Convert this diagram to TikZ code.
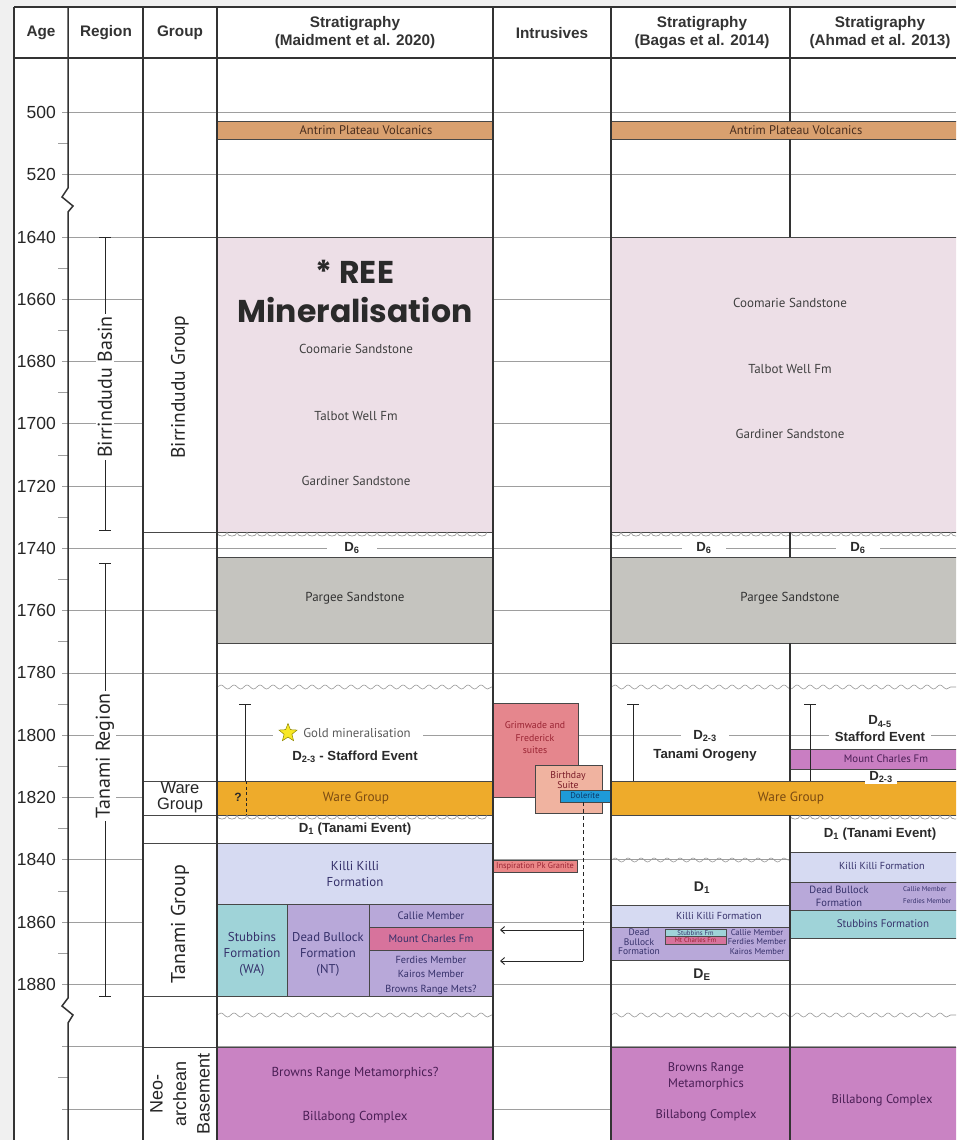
\documentclass[tikz,border=0pt]{standalone}
\usepackage{fontspec}
\setmainfont{Liberation Sans}
\newfontfamily\my{PT Sans}
\newfontfamily\pop{Poppins}
\usetikzlibrary{decorations.pathmorphing,arrows.meta,shapes.geometric}
\definecolor{antrim}{HTML}{D9A06F}
\definecolor{antxt}{HTML}{4A2E1E}
\definecolor{pinkbox}{HTML}{EDDFE7}
\definecolor{pargee}{HTML}{C5C4BF}
\definecolor{ware}{HTML}{EEAB2B}
\definecolor{waretxt}{HTML}{7A4A12}
\definecolor{killi}{HTML}{D6DAF2}
\definecolor{stub}{HTML}{9FD3D8}
\definecolor{dbull}{HTML}{B8A8D9}
\definecolor{mtch}{HTML}{D7739C}
\definecolor{mtchA}{HTML}{C97EC2}
\definecolor{basecol}{HTML}{C983C3}
\definecolor{grim}{HTML}{E5868D}
\definecolor{grimtxt}{HTML}{9A2433}
\definecolor{bday}{HTML}{F0B3A0}
\definecolor{dol}{HTML}{1E9AD8}
\definecolor{doltxt}{HTML}{0B3766}
\definecolor{insp}{HTML}{EA8787}
\definecolor{purtxt}{HTML}{35306A}
\definecolor{bastxt}{HTML}{4A1E55}
\definecolor{dk}{HTML}{2A2A2A}
\definecolor{bggray}{HTML}{F0F0F0}
\definecolor{staryel}{HTML}{F8E824}
\begin{document}
\begin{tikzpicture}[x=1pt,y=-1pt,
  colline/.style={line width=1.5pt, draw=black!80},
  gridl/.style={draw=black!38, line width=0.7pt},
  boxx/.style={draw=black!72, line width=0.9pt},
  wavy/.style={draw=black!40, line width=0.6pt, decorate, decoration={snake, segment length=13pt, amplitude=2pt}},
  scal/.style={draw=black!45, line width=0.6pt},
  ibeam/.style={draw=black!85, line width=0.9pt},
  hdr/.style={font=\bfseries\fontsize{15.3}{18}\selectfont, text=black!80, align=center, inner sep=0pt},
  agel/.style={font=\fontsize{17.5}{19}\selectfont, text=black!85, anchor=east, inner sep=0pt},
  fm/.style={font=\my\fontsize{13}{15}\selectfont, align=center, inner sep=0pt},
  sfm/.style={font=\my\fontsize{10.5}{12}\selectfont, align=center, inner sep=0pt},
  ev/.style={font=\bfseries\fontsize{13.2}{16}\selectfont, text=dk, align=center, inner sep=1pt},
  reg/.style={font=\my\fontsize{20}{22}\selectfont, text=black!85, rotate=90, inner sep=2pt}
]
\useasboundingbox (0,0) rectangle (956,1140);
\clip (0,0) rectangle (956,1140);
\fill[bggray] (0,0) rectangle (956,1140);
\fill[white] (14,7) rectangle (956,1140);

% ---------- grid lines and ticks
\draw[gridl] (62,112) -- (956,112);
\draw[gridl] (62,174) -- (956,174);
\draw[gridl] (58,143) -- (68,143);
\foreach \a in {1640,1660,...,1920} {
  \pgfmathsetmacro\yy{237+(\a-1640)*3.114}
  \draw[gridl] (62,\yy) -- (956,\yy);
}
\foreach \a in {1650,1670,...,1870,1910,1930} {
  \pgfmathsetmacro\yy{237+(\a-1640)*3.114}
  \draw[gridl] (58,\yy) -- (68,\yy);
}
\node[agel] (age500) at (56,112) {500};
\node[agel] (age520) at (56,174) {520};
\foreach \a in {1640,1660,...,1880} {
  \pgfmathsetmacro\yy{237+(\a-1640)*3.114}
  \node[agel] (age\a) at (56,\yy) {\a};
}

% ---------- region column
\draw[ibeam] (99,237) -- (111,237) (105,237) -- (105,530) (99,530) -- (111,530);
\node[reg, fill=white] (bbasin) at (105,387) {Birrindudu Basin};
\draw[ibeam] (99,563) -- (111,563) (105,563) -- (105,996) (99,996) -- (111,996);
\node[reg, fill=white] (tregion) at (105,756) {Tanami Region};

% ---------- group column
\path[boxx, fill=white] (143,237) rectangle (217,532);
\path[boxx, fill=white] (143,781) rectangle (217,815);
\path[boxx, fill=white] (143,815) rectangle (217,843);
\path[boxx, fill=white] (143,843) rectangle (217,996);
\path[boxx, fill=white] (143,996) rectangle (217,1047);
\path[boxx, fill=white] (143,1047) rectangle (217,1150);
\node[reg, font=\my\fontsize{19.5}{21}\selectfont] (gbirr) at (180,387) {Birrindudu Group};
\node[font=\fontsize{16.5}{16}\selectfont, align=center, inner sep=0pt, text=black!85] (gware) at (180,798) {Ware\\Group};
\node[reg, font=\my\fontsize{20}{22}\selectfont] (gtan) at (180,924) {Tanami Group};
\node[rotate=90, font=\fontsize{18}{23.5}\selectfont, align=center, inner sep=0pt, text=black!85] (gneo) at (180,1094) {Neo-\\archean\\Basement};

% ---------- Maidment column
\path[boxx, fill=antrim] (217,121) rectangle (493,139);
\node[fm, font=\my\fontsize{12.5}{14}\selectfont, text=antxt] (mantrim) at (366,130) {Antrim Plateau Volcanics};
\path[boxx, fill=pinkbox] (217,237) rectangle (493,532);
\node[font=\pop\bfseries\fontsize{31.5}{33}\selectfont, text=dk, inner sep=0pt] (ree1) at (355,272) {* REE};
\node[font=\pop\bfseries\fontsize{31.5}{33}\selectfont, text=dk, inner sep=0pt] (ree2) at (355,310) {Mineralisation};
\node[fm, text=black!75] (mcoom) at (356,349) {Coomarie Sandstone};
\node[fm, text=black!75] (mtalb) at (356,416) {Talbot Well Fm};
\node[fm, text=black!75] (mgard) at (356,481) {Gardiner Sandstone};
\foreach \x in {217,227,...,483}
  \draw[scal] (\x,532) .. controls +(0,5.5) and +(0,5.5) .. (\x+10,532);
\node[ev, fill=white, inner xsep=17pt] (md6) at (352,548) {D\textsubscript{6}};
\path[boxx, fill=pargee] (217,557) rectangle (493,643);
\node[fm, text=black!80] (mparg) at (355,598) {Pargee Sandstone};
\draw[wavy] (217,687) -- (493,687);
\draw[ibeam] (239,704) -- (251,704) (245,704) -- (245,781);
\fill[white] (273,726) rectangle (423,740);
\node[star, star points=5, star point ratio=2.3, fill=staryel, draw=olive, line width=0.5pt, minimum size=19pt, inner sep=0pt] (gstar) at (288,733) {};
\node[fm, font=\my\fontsize{12.8}{14}\selectfont, text=black!65] (gold) at (357,733) {Gold mineralisation};
\node[ev] (mstaff) at (355,757) {D\textsubscript{2-3} - Stafford Event};
\path[boxx, fill=ware] (217,781) rectangle (493,815);
\node[fm, font=\my\fontsize{13.3}{15}\selectfont, text=waretxt] (mware) at (356,798) {Ware Group};
\draw[ibeam, dash pattern=on 3pt off 2.5pt] (246,781) -- (246,815);
\node[font=\bfseries\fontsize{12}{13}\selectfont, text=dk, inner sep=0pt] (mq) at (238,797) {?};
\foreach \x in {217,227,...,483}
  \draw[scal] (\x,815) .. controls +(0,5.5) and +(0,5.5) .. (\x+10,815);
\node[ev] (md1) at (355,829) {D\textsubscript{1} (Tanami Event)};
\path[boxx, fill=killi] (217,843) rectangle (493,904);
\node[fm, font=\my\fontsize{12.9}{15.5}\selectfont, text=purtxt] (mkilli) at (355,874) {Killi Killi\\Formation};
\path[boxx, fill=stub] (217,904) rectangle (287,996);
\node[fm, font=\my\fontsize{12.9}{16}\selectfont, text=purtxt] (mstub) at (252,954) {Stubbins\\Formation\\(WA)};
\path[boxx, fill=dbull] (287,904) rectangle (369,996);
\node[fm, font=\my\fontsize{12.7}{16}\selectfont, text=purtxt] (mdead) at (328,954) {Dead Bullock\\Formation\\(NT)};
\path[boxx, fill=dbull] (369,904) rectangle (493,927);
\path[boxx, fill=mtch] (369,927) rectangle (493,950);
\path[boxx, fill=dbull] (369,950) rectangle (493,996);
\node[sfm, font=\my\fontsize{10.8}{12}\selectfont, text=purtxt] (mcallie) at (431,916) {Callie Member};
\node[sfm, font=\my\fontsize{10.9}{12}\selectfont, text=purtxt] (mmtch) at (431,939) {Mount Charles Fm};
\node[sfm, font=\my\fontsize{10.3}{14.5}\selectfont, text=purtxt] (mferd) at (431,975) {Ferdies Member\\Kairos Member\\Browns Range Mets?};
\draw[wavy] (217,1015) -- (493,1015);
\path[boxx, fill=basecol] (217,1047) rectangle (493,1150);
\node[fm, font=\my\fontsize{13}{15}\selectfont, text=bastxt] (mbrm) at (355,1073) {Browns Range Metamorphics?};
\node[fm, font=\my\fontsize{13}{15}\selectfont, text=bastxt] (mbill) at (355,1117) {Billabong Complex};

% ---------- Intrusives column
\path[boxx, fill=grim] (493,703) rectangle (578,797);
\node[sfm, font=\my\fontsize{9.8}{12.5}\selectfont, text=grimtxt] (grimw) at (535,738) {Grimwade and\\Frederick\\suites};
\path[boxx, fill=bday] (535,765) rectangle (602,813);
\node[sfm, font=\my\fontsize{9.8}{9.5}\selectfont, text=grimtxt!80!black] (bday) at (568,780) {Birthday\\Suite};
\path[boxx, fill=dol] (560,790) rectangle (611,802);
\node[sfm, font=\my\fontsize{8.5}{9}\selectfont, text=doltxt] (dolt) at (585,796) {Dolerite};
\path[boxx, fill=insp] (493,860) rectangle (577,872);
\node[sfm, font=\my\fontsize{8.4}{9}\selectfont, text=grimtxt] (insp) at (535,866) {Inspiration Pk Granite};
\coordinate (dtop) at (583,802);
\coordinate (dj1) at (583,930);
\coordinate (dj2) at (583,961);
\coordinate (a1) at (500,930);
\coordinate (a2) at (500,961);
\draw[ibeam, line width=1pt, dash pattern=on 4pt off 3pt] (dtop) -- (dj1);
\draw[ibeam, line width=0.9pt] (dj1) -- (dj2);
\draw[ibeam, line width=0.9pt, -{Straight Barb[length=4pt,width=7pt]}] (dj1) -- (a1);
\draw[ibeam, line width=0.9pt, -{Straight Barb[length=4pt,width=7pt]}] (dj2) -- (a2);

% ---------- Bagas & Ahmad columns
\path[boxx, fill=antrim] (611,121) rectangle (975,139);
\node[fm, font=\my\fontsize{12.5}{14}\selectfont, text=antxt] (bantrim) at (796,130) {Antrim Plateau Volcanics};
\path[boxx, fill=pinkbox] (611,237) rectangle (975,532);
\node[fm, text=black!75] (bcoom) at (790,303) {Coomarie Sandstone};
\node[fm, text=black!75] (btalb) at (790,369) {Talbot Well Fm};
\node[fm, text=black!75] (bgard) at (790,434) {Gardiner Sandstone};
\foreach \x in {611,621,...,951}
  \draw[scal] (\x,532) .. controls +(0,5.5) and +(0,5.5) .. (\x+10,532);
\node[ev, fill=white, inner xsep=14pt] (bd6) at (704,548) {D\textsubscript{6}};
\node[ev, fill=white, inner xsep=14pt] (ad6) at (858,548) {D\textsubscript{6}};
\path[boxx, fill=pargee] (611,557) rectangle (975,643);
\node[fm, text=black!80] (bparg) at (790,598) {Pargee Sandstone};
\draw[wavy] (611,687) -- (956,687);
% Bagas events
\draw[ibeam] (627,704) -- (639,704) (633,704) -- (633,781);
\node[ev, fill=white, inner xsep=12pt] (bd23) at (705,736) {D\textsubscript{2-3}};
\node[ev] (btan) at (705,755) {Tanami Orogeny};
% Ahmad events
\path[boxx, fill=mtchA] (790,749) rectangle (975,769);
\node[sfm, font=\my\fontsize{10.8}{12}\selectfont, text=bastxt] (amtch) at (886,759) {Mount Charles Fm};
\draw[ibeam] (804,704) -- (816,704) (810,704) -- (810,781);
\node[ev, fill=white, inner xsep=6pt, font=\bfseries\fontsize{13.2}{17}\selectfont] (ad45) at (880,729) {D\textsubscript{4-5}\\Stafford Event};
\path[boxx, fill=ware] (611,781) rectangle (975,815);
\node[fm, font=\my\fontsize{13.3}{15}\selectfont, text=waretxt] (bware) at (791,798) {Ware Group};
\node[ev, fill=white, inner xsep=4pt, inner ysep=1pt] (ad23) at (881,777) {D\textsubscript{2-3}};
\foreach \x in {790,800,...,950}
  \draw[scal] (\x,815) .. controls +(0,5.5) and +(0,5.5) .. (\x+10,815);
\node[ev] (ad1) at (880,834) {D\textsubscript{1} (Tanami Event)};
% Bagas lower
\draw[wavy] (611,860) -- (790,860);
\node[ev, font=\bfseries\fontsize{14}{16}\selectfont] (bd1) at (702,888) {D\textsubscript{1}};
\path[boxx, fill=killi] (611,905) rectangle (790,927);
\node[sfm, font=\my\fontsize{10.2}{12}\selectfont, text=purtxt] (bkilli) at (719,916) {Killi Killi Formation};
\path[boxx, fill=dbull] (611,927) rectangle (790,960);
\path[draw=black!70, line width=0.6pt, fill=stub] (665,929) rectangle (726,936.5);
\path[draw=black!70, line width=0.6pt, fill=mtch] (665,936.5) rectangle (726,944);
\node[sfm, font=\my\fontsize{6.8}{7}\selectfont, text=purtxt] (bstub) at (695.5,932.8) {Stubbins Fm};
\node[sfm, font=\my\fontsize{6.8}{7}\selectfont, text=grimtxt] (bmtch) at (695.5,940.3) {Mt Charles Fm};
\node[sfm, font=\my\fontsize{9.5}{9.5}\selectfont, text=purtxt] (bdead) at (639,942) {Dead\\Bullock\\Formation};
\node[sfm, font=\my\fontsize{8.5}{9.5}\selectfont, text=purtxt] (bmem) at (757,942) {Callie Member\\Ferdies Member\\Kairos Member};
\node[ev, font=\bfseries\fontsize{14}{16}\selectfont] (bde) at (702,975) {D\textsubscript{E}};
% Ahmad lower
\path[boxx, fill=killi] (790,852) rectangle (975,882);
\node[sfm, font=\my\fontsize{10.2}{12}\selectfont, text=purtxt] (akilli) at (882,866) {Killi Killi Formation};
\path[boxx, fill=dbull] (790,882) rectangle (975,910);
\node[sfm, font=\my\fontsize{10.5}{13}\selectfont, text=purtxt] (adead) at (839,896) {Dead Bullock\\Formation};
\node[sfm, font=\my\fontsize{7}{8}\selectfont, text=purtxt, anchor=west] (acal) at (903,889) {Callie Member};
\node[sfm, font=\my\fontsize{7}{8}\selectfont, text=purtxt, anchor=west] (afer) at (903,901) {Ferdies Member};
\path[boxx, fill=stub] (790,910) rectangle (975,938);
\node[sfm, font=\my\fontsize{11}{12}\selectfont, text=purtxt] (astub) at (883,924) {Stubbins Formation};
\draw[wavy] (611,1015) -- (956,1015);
\path[boxx, fill=basecol] (611,1047) rectangle (790,1150);
\path[boxx, fill=basecol] (790,1047) rectangle (975,1150);
\node[fm, font=\my\fontsize{12.5}{16}\selectfont, text=bastxt] (bbrm) at (706,1076) {Browns Range\\Metamorphics};
\node[fm, font=\my\fontsize{12.5}{14}\selectfont, text=bastxt] (bbill) at (706,1115) {Billabong Complex};
\node[fm, font=\my\fontsize{12.5}{14}\selectfont, text=bastxt] (abill) at (882,1100) {Billabong Complex};

% ---------- column lines and header
\draw[colline] (14,7) -- (956,7);
\draw[colline] (14,58) -- (956,58);
\draw[colline] (14,7) -- (14,1140);
\draw[colline] (68,7) -- (68,188) -- (62,197) -- (73,206) -- (68,212) -- (68,998) -- (62,1006) -- (73,1015) -- (68,1023) -- (68,1140);
\draw[colline] (143,7) -- (143,1140);
\draw[colline] (217,7) -- (217,1140);
\draw[colline] (493,7) -- (493,1140);
\draw[colline] (611,7) -- (611,1140);
\draw[colline] (790,7) -- (790,121) (790,139) -- (790,237) (790,532) -- (790,557) (790,643) -- (790,781) (790,815) -- (790,1140);

\node[hdr] (hage) at (41,33) {Age};
\node[hdr] (hreg) at (106,33) {Region};
\node[hdr] (hgrp) at (180,33) {Group};
\node[hdr] (hmaid) at (355,33) {Stratigraphy\\(Maidment et al. 2020)};
\node[hdr] (hint) at (552,33) {Intrusives};
\node[hdr] (hbag) at (702,33) {Stratigraphy\\(Bagas et al. 2014)};
\node[hdr] (hahm) at (880,33) {Stratigraphy\\(Ahmad et al. 2013)};
\end{tikzpicture}
\end{document}
